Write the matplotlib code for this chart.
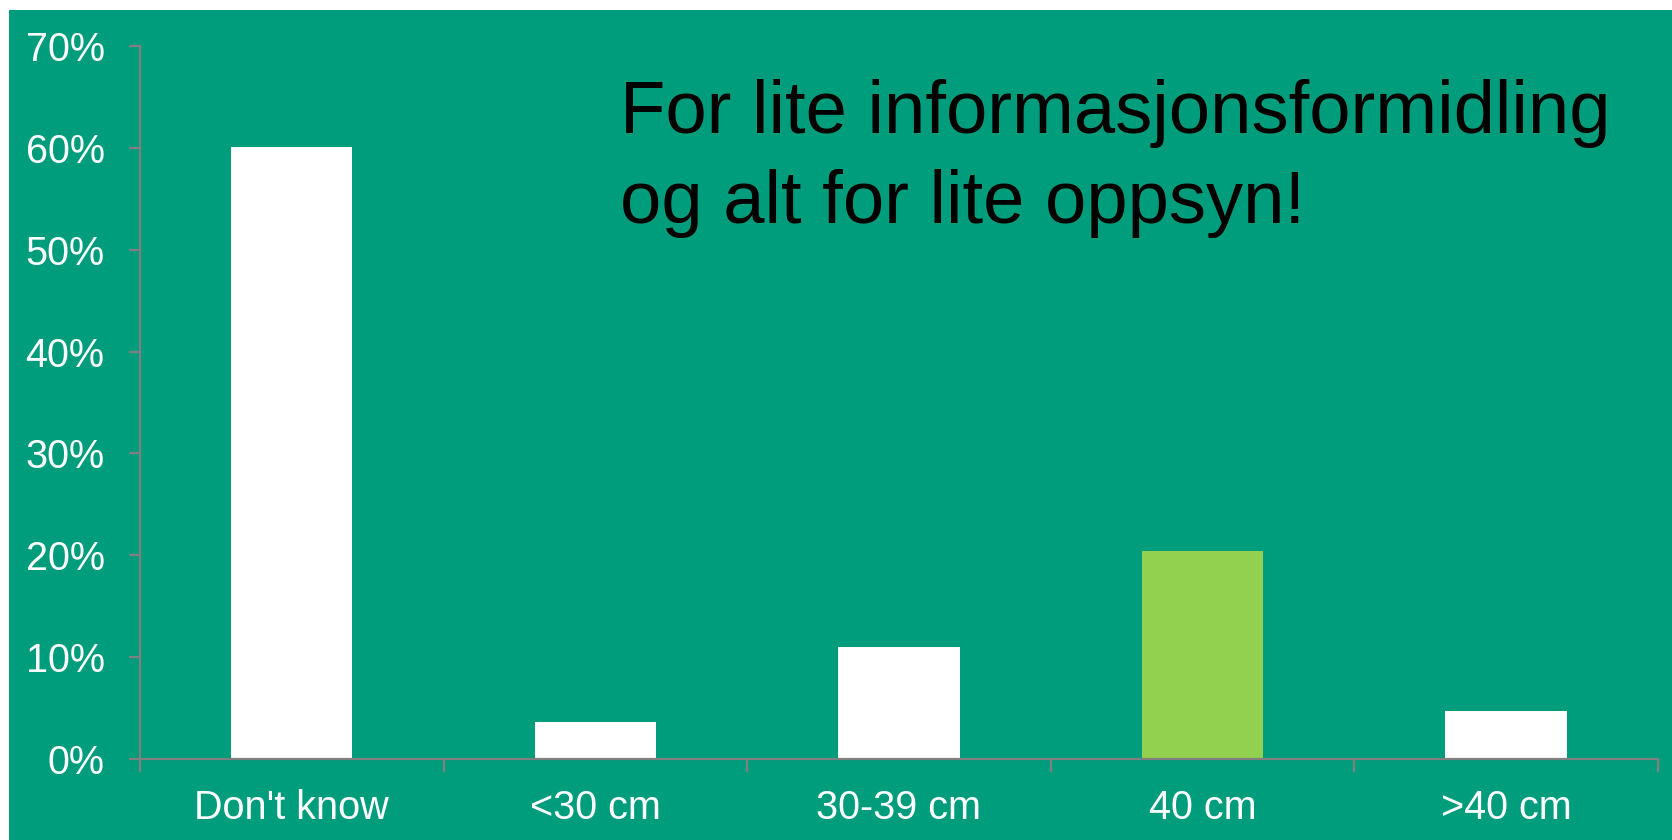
import numpy as np
import matplotlib.pyplot as plt
from matplotlib.patches import Rectangle
from matplotlib.ticker import PercentFormatter

# data
categories = ["Don't know", "<30 cm", "30-39 cm", "40 cm", ">40 cm"]
values = [60.1, 3.6, 11.0, 20.4, 4.7]
bar_colors = ["white", "white", "white", "#92D050", "white"]
yticks = [0, 10, 20, 30, 40, 50, 60, 70]
note_lines = ["For lite informasjonsformidling", "og alt for lite oppsyn!"]

bg = "#009D7D"
grey = "#808080"
plt.rcParams['font.family'] = ['Liberation Sans', 'DejaVu Sans']

fig = plt.figure(figsize=(16.72, 8.40), dpi=100)
fig.patch.set_facecolor("white")
# green slide area (thin white strip on top and left)
fig.patches.append(Rectangle((9/1672, 0), 1 - 9/1672, 1 - 10/840,
                             transform=fig.transFigure, facecolor=bg,
                             edgecolor="none", zorder=-10))

ax = fig.add_axes([140/1672, 1 - 759/840, (1657.7 - 140)/1672, (759 - 46)/840])
ax.set_facecolor("none")

x = np.arange(len(categories))
ax.bar(x, values, width=0.4, color=bar_colors, zorder=2)

ax.set_xlim(-0.5, len(categories) - 0.5)
ax.set_ylim(0, 70)
ax.set_yticks(yticks)
ax.yaxis.set_major_formatter(PercentFormatter(decimals=0))

# category boundaries as major ticks, labels on minor ticks
ax.set_xticks(np.arange(len(categories) + 1) - 0.5)
ax.set_xticklabels([])
ax.set_xticks(x, minor=True)
ax.set_xticklabels(categories, minor=True)

for s in ["top", "right"]:
    ax.spines[s].set_visible(False)
for s in ["left", "bottom"]:
    ax.spines[s].set_color(grey)
    ax.spines[s].set_linewidth(1.6)

ax.tick_params(axis="y", direction="out", length=8, width=1.6, color=grey,
               labelcolor="white", labelsize=28.5, pad=17.5)
ax.tick_params(axis="x", which="major", direction="out", length=9, width=1.6,
               color=grey)
ax.tick_params(axis="x", which="minor", length=0, labelcolor="white",
               labelsize=28.5, pad=21.5)

fig.text(620/1672, 1 - 133.3/840, note_lines[0], fontsize=53.5, color="black",
         va="baseline", ha="left")
fig.text(620/1672, 1 - 223.3/840, note_lines[1], fontsize=53.5, color="black",
         va="baseline", ha="left")

fig.savefig("out.png", dpi=100, facecolor=fig.get_facecolor())
